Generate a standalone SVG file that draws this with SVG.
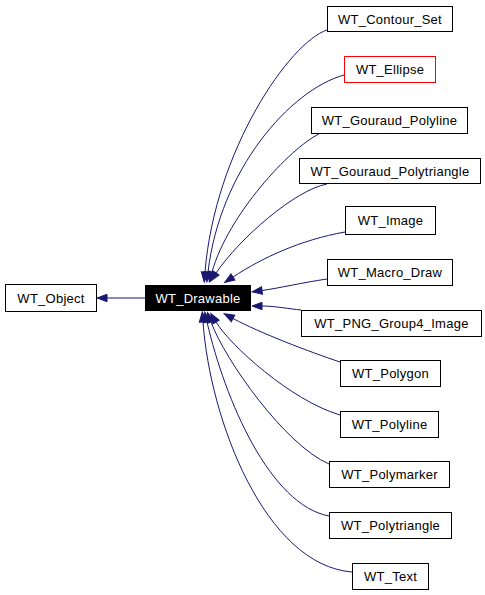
<svg xmlns="http://www.w3.org/2000/svg" width="485" height="595" viewBox="0 0 485 595">
<style>
.n rect{fill:#fff;stroke:#000;stroke-width:1}
.n text{font-family:"Liberation Sans",Arial,sans-serif;font-size:13px;letter-spacing:0.25px;text-anchor:middle;fill:#000}
#wt_ellipse rect{stroke:#f00}
#wt_drawable rect{fill:#000}
#wt_drawable text{fill:#fff}
.e path{fill:none;stroke:#191970;stroke-width:1;marker-end:url(#ah)}
</style>
<defs>
<marker id="ah" markerUnits="userSpaceOnUse" markerWidth="12" markerHeight="10" refX="0" refY="5" orient="auto" overflow="visible">
<path d="M0,1.3 L10,5 L0,8.7 z" fill="#191970" stroke="#191970"/>
</marker>
</defs>
<rect width="485" height="595" fill="#fff"/>
<g class="e" id="edges">
<path d="M145,298 L107,298"/>
<path d="M327,30 C290,42 215,150 205,272"/>
<path d="M344,75 C290,90 220,170 208,272"/>
<path d="M319,134 C290,148 228,215 212,272"/>
<path d="M327,184 C295,190 240,238 216,273"/>
<path d="M345,232 C300,240 262,258 233,277"/>
<path d="M327,279 C300,283 280,288 262,290.5"/>
<path d="M301,310 C290,309 275,306 262,306"/>
<path d="M340,362 C310,352 260,333 233,318.5"/>
<path d="M340,415 C290,400 230,345 216,322"/>
<path d="M329,464 C285,445 225,360 211,322"/>
<path d="M329,516 C270,505 225,400 207,322"/>
<path d="M352,572 C265,565 210,420 203,322"/>
</g>
<g class="n" id="wt_object"><rect x="5.5" y="284.5" width="91" height="27"/><text x="51" y="302.5">WT_Object</text></g>
<g class="n" id="wt_drawable"><rect x="145.5" y="285.5" width="105" height="25"/><text x="198" y="302.5">WT_Drawable</text></g>
<g class="n" id="wt_contour_set"><rect x="327.5" y="6.5" width="125" height="25"/><text x="390" y="23.5">WT_Contour_Set</text></g>
<g class="n" id="wt_ellipse"><rect x="344.5" y="56.5" width="91" height="26"/><text x="390" y="74">WT_Ellipse</text></g>
<g class="n" id="wt_gouraud_polyline"><rect x="311.5" y="107.5" width="156" height="26"/><text x="389.5" y="125">WT_Gouraud_Polyline</text></g>
<g class="n" id="wt_gouraud_polytriangle"><rect x="299.5" y="158.5" width="181" height="25"/><text x="390" y="175.5">WT_Gouraud_Polytriangle</text></g>
<g class="n" id="wt_image"><rect x="345.5" y="206.5" width="90" height="28"/><text x="390.5" y="225">WT_Image</text></g>
<g class="n" id="wt_macro_draw"><rect x="327.5" y="259.5" width="125" height="26"/><text x="390" y="277">WT_Macro_Draw</text></g>
<g class="n" id="wt_png_group4_image"><rect x="301.5" y="310.5" width="180" height="26"/><text x="391.5" y="328">WT_PNG_Group4_Image</text></g>
<g class="n" id="wt_polygon"><rect x="340.5" y="360.5" width="100" height="26"/><text x="390.5" y="378">WT_Polygon</text></g>
<g class="n" id="wt_polyline"><rect x="340.5" y="411.5" width="98" height="26"/><text x="389.5" y="429">WT_Polyline</text></g>
<g class="n" id="wt_polymarker"><rect x="329.5" y="461.5" width="120" height="26"/><text x="389.5" y="479">WT_Polymarker</text></g>
<g class="n" id="wt_polytriangle"><rect x="329.5" y="512.5" width="122" height="26"/><text x="390.5" y="530">WT_Polytriangle</text></g>
<g class="n" id="wt_text"><rect x="352.5" y="563.5" width="76" height="26"/><text x="390.5" y="581">WT_Text</text></g>
</svg>
